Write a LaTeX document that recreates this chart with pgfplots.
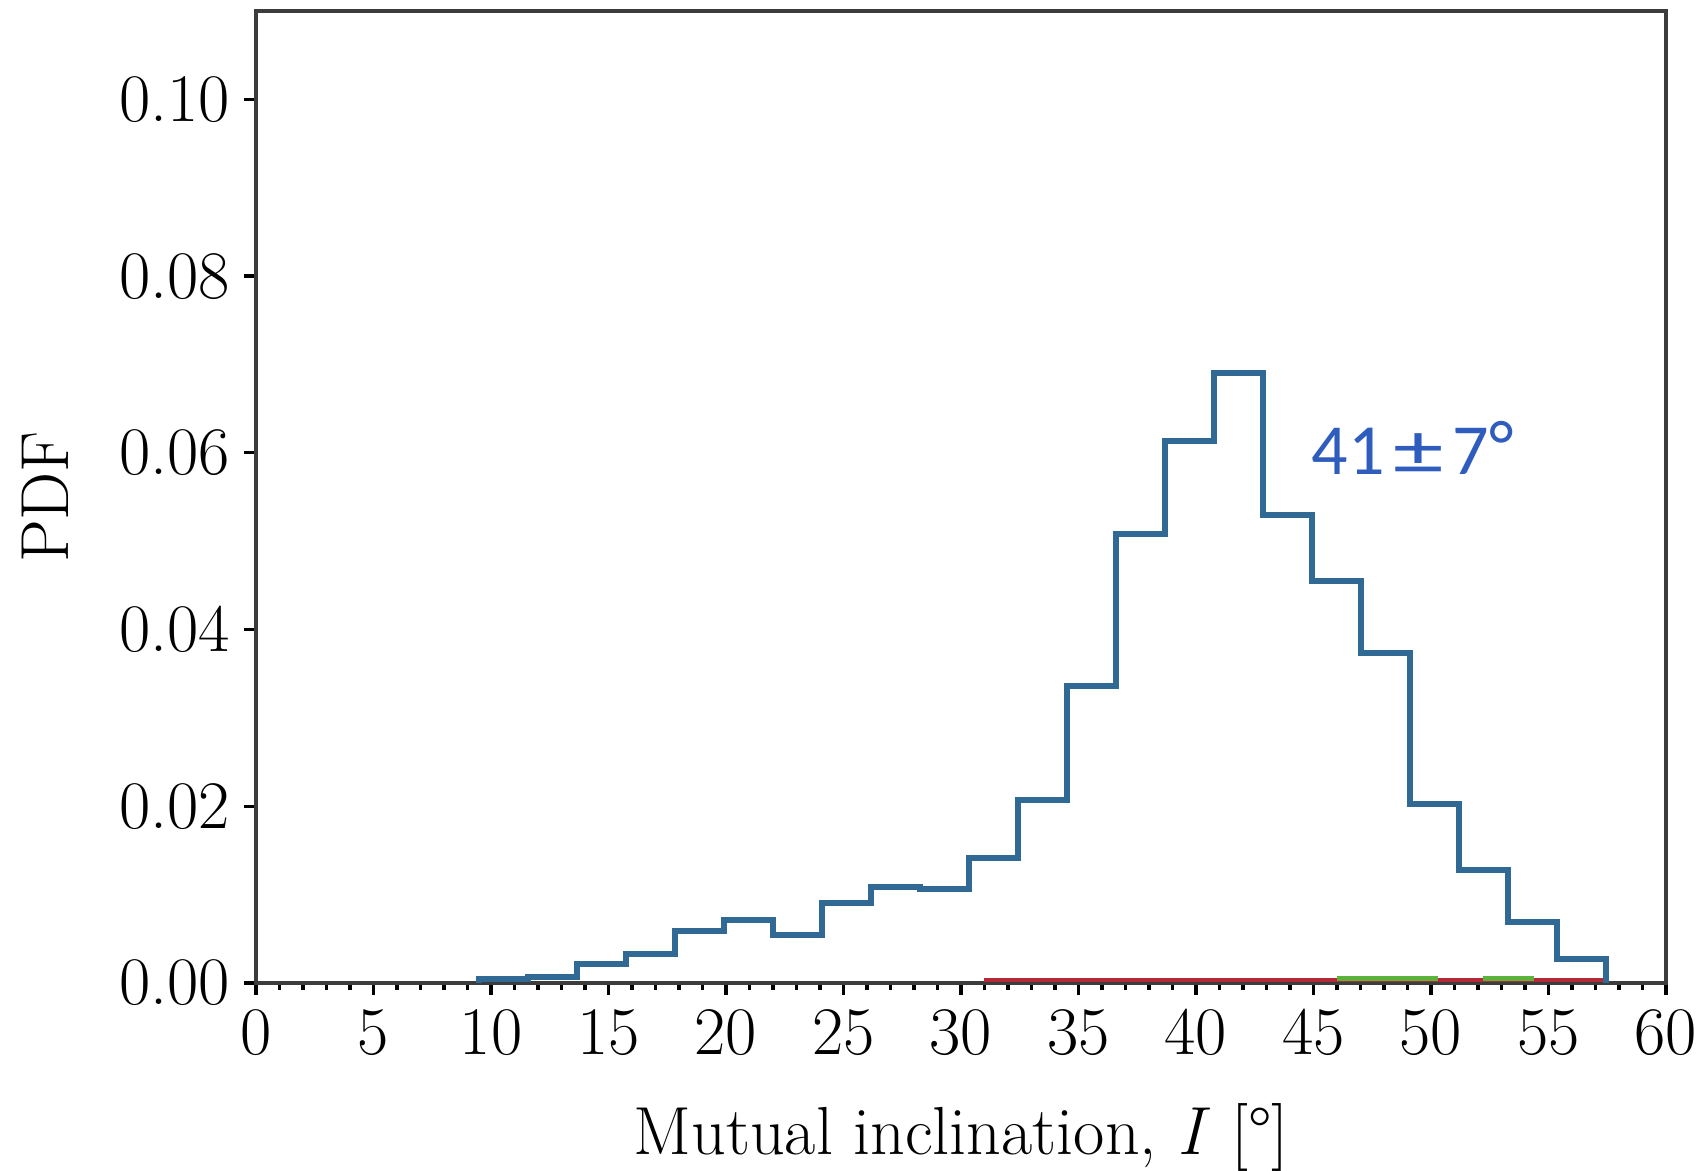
\documentclass[border=0pt]{standalone}
\usepackage{fontspec}
\usepackage{graphicx}
\usepackage{pgfplots}
\pgfplotsset{compat=1.18}
\newfontfamily\carlito{Carlito}
\definecolor{histblue}{RGB}{48,106,148}
\definecolor{annblue}{RGB}{47,93,190}
\definecolor{hred}{RGB}{180,40,55}
\definecolor{hgreen}{RGB}{90,180,60}
\definecolor{axgray}{RGB}{60,60,60}
\begin{document}
\begin{tikzpicture}
\begin{axis}[
  scale only axis,
  width=352.5pt, height=243pt,
  xmin=0, xmax=60, ymin=0, ymax=0.11,
  axis line style={axgray, line width=0.9pt},
  tick style={black, line width=0.8pt},
  tick align=outside,
  xtick pos=left, ytick pos=left,
  xtick={0,5,...,60},
  minor x tick num=4,
  ytick={0,0.02,0.04,0.06,0.08,0.10},
  major tick length=3pt, minor tick length=1.8pt,
  scaled y ticks=false,
  yticklabel style={/pgf/number format/fixed, /pgf/number format/fixed zerofill, /pgf/number format/precision=2},
  /pgf/number format/assume math mode=true,
  tick label style={font=\fontsize{17}{20}\selectfont},
  label style={font=\fontsize{17}{20}\selectfont},
  xlabel={Mutual inclination, \textit{I} [°]},
  ylabel={PDF},
  xlabel style={at={(axis description cs:0.5,-0.176)}, anchor=base},
  ylabel style={at={(axis description cs:-0.1333,0.5)}, anchor=base},
  clip=false,
]
\addplot[hred, line width=1pt] coordinates {(31,0.0003) (57.3,0.0003)};
\addplot[hred, line width=1pt] coordinates {(9.4,0.0003) (9.7,0.0003)};
\addplot[hgreen, line width=1.2pt] coordinates {(46.0,0.0005) (50.3,0.0005)};
\addplot[hgreen, line width=1.2pt] coordinates {(52.2,0.0005) (54.4,0.0005)};
\addplot[const plot, histblue, line width=1.5pt, line join=miter] coordinates {
(9.50,0)
(9.50,0.0004)
(11.58,0.0007)
(13.67,0.0021)
(15.75,0.0033)
(17.84,0.0059)
(19.92,0.0071)
(22.01,0.0054)
(24.09,0.0090)
(26.18,0.0109)
(28.26,0.0106)
(30.35,0.0141)
(32.43,0.0207)
(34.52,0.0336)
(36.60,0.0508)
(38.69,0.0613)
(40.77,0.0690)
(42.86,0.0530)
(44.94,0.0455)
(47.03,0.0373)
(49.11,0.0203)
(51.20,0.0128)
(53.28,0.0069)
(55.37,0.0027)
(57.45,0.0027)
(57.45,0)
};
\node[anchor=base west, text=annblue, font=\carlito\fontsize{18}{21}\selectfont, inner sep=0pt] at (axis cs:44.9,0.0575) {41\hspace{2.2pt}\scalebox{1.4}[1.0]{±}\hspace{2.2pt}7\raisebox{1pt}{°}};
\end{axis}
\pgfresetboundingbox
\useasboundingbox (-64pt,-46.75pt) rectangle (362pt,245.75pt);
\end{tikzpicture}
\end{document}
